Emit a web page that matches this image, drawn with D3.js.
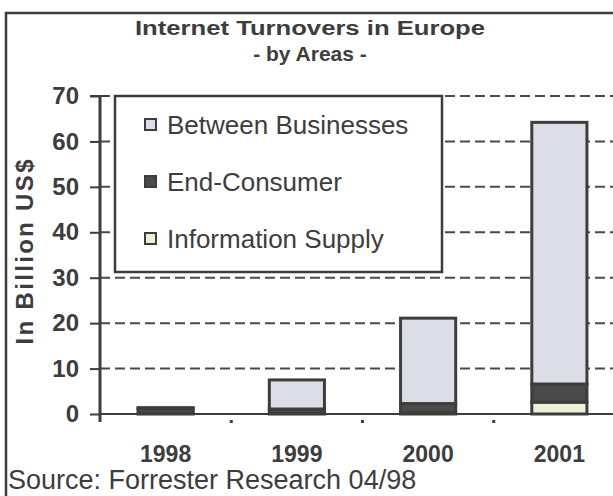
<!DOCTYPE html>
<html>
<head>
<meta charset="utf-8">
<script src="https://cdn.jsdelivr.net/npm/d3@7"></script>
<style>
  body { margin: 0; background: #fff; }
  svg { display: block; }
</style>
</head>
<body>
<div id="chart"></div>
<script>
// values (billion US$)
const years = ["1998", "1999", "2000", "2001"];
const infoSupply = [0.1, 0.1, 0.3, 2.6];
const endConsumer = [1.1, 1.0, 2.0, 4.0];
const betweenBusinesses = [0.2, 6.4, 18.8, 57.6];
const seriesNames = ["Between Businesses", "End-Consumer", "Information Supply"];
const yTicks = [0, 10, 20, 30, 40, 50, 60, 70];

const width = 613, height = 496;
const ink = "#3d3d3d";
const colors = {
  "Information Supply": "#eef0d8",
  "End-Consumer": "#4a4a4a",
  "Between Businesses": "#dcdde6"
};

let svg = d3.select("#chart").append("svg")
    .attr("width", width)
    .attr("height", height);

svg.append("rect")
    .attr("x", 0).attr("y", 0)
    .attr("width", width).attr("height", height)
    .style("fill", "#fff");

// outer chart frame (right/bottom edges are cut off in the scan)
svg.append("path")
    .attr("d", "M6," + height + "V13H" + width)
    .style("fill", "none")
    .style("stroke", ink)
    .style("stroke-width", 2.5);

let x = d3.scaleBand()
    .domain(years)
    .range([100, 625])
    .paddingInner(0.58)
    .paddingOuter(0.29);

let y = d3.scaleLinear()
    .domain([0, 70])
    .range([414, 96]);

// dashed gridlines
svg.append("g")
    .selectAll("line")
    .data(yTicks.slice(1))
  .enter().append("line")
    .attr("x1", 100).attr("x2", width)
    .attr("y1", d => y(d)).attr("y2", d => y(d))
    .style("stroke", "#4a4a4a")
    .style("stroke-width", 2)
    .style("stroke-dasharray", "10,5");

// stacked bars
let table = years.map((yr, i) => ({
  year: yr,
  "Information Supply": infoSupply[i],
  "End-Consumer": endConsumer[i],
  "Between Businesses": betweenBusinesses[i]
}));
let stack = d3.stack().keys(["Information Supply", "End-Consumer", "Between Businesses"]);
let layers = stack(table);

svg.append("g")
    .selectAll("g")
    .data(layers)
  .enter().append("g")
    .style("fill", d => colors[d.key])
    .selectAll("rect")
    .data(d => d)
  .enter().append("rect")
    .attr("x", d => x(d.data.year))
    .attr("width", x.bandwidth())
    .attr("y", d => y(d[1]))
    .attr("height", d => y(d[0]) - y(d[1]))
    .style("stroke", ink)
    .style("stroke-width", 3);

// x axis baseline and small ticks between categories
svg.append("line")
    .attr("x1", 100).attr("x2", width)
    .attr("y1", y(0)).attr("y2", y(0))
    .style("stroke", ink)
    .style("stroke-width", 2);

let step = x.step();
svg.append("g")
    .selectAll("rect")
    .data(years.slice(1))
  .enter().append("rect")
    .attr("x", d => x(d) - step * x.paddingInner() / 2 - 1.5)
    .attr("y", y(0) + 6)
    .attr("width", 3).attr("height", 3)
    .style("fill", ink);

svg.append("g")
    .selectAll("text")
    .data(years)
  .enter().append("text")
    .attr("x", d => x(d) + x.bandwidth() / 2)
    .attr("y", 462)
    .attr("text-anchor", "middle")
    .style("font", "bold 23px 'Liberation Sans', Arial, sans-serif")
    .style("fill", ink)
    .text(d => d);

// y axis
let yAxis = d3.axisLeft(y)
    .tickValues(yTicks)
    .tickSize(10)
    .tickPadding(11);

let gy = svg.append("g")
    .attr("transform", "translate(100,0)")
    .call(yAxis);
gy.select(".domain").remove();
gy.selectAll(".tick line")
    .style("stroke", ink)
    .style("stroke-width", 2);
gy.selectAll(".tick text")
    .style("font", "bold 24px 'Liberation Sans', Arial, sans-serif")
    .style("fill", ink);

svg.append("line")
    .attr("x1", 100).attr("x2", 100)
    .attr("y1", y(70)).attr("y2", y(0) + 8)
    .style("stroke", ink)
    .style("stroke-width", 3);
svg.append("line")
    .attr("x1", 90).attr("x2", 109)
    .attr("y1", y(70)).attr("y2", y(70))
    .style("stroke", ink)
    .style("stroke-width", 2);

svg.append("text")
    .attr("transform", "translate(33,252) rotate(-90)")
    .attr("text-anchor", "middle")
    .attr("textLength", 185)
    .attr("lengthAdjust", "spacing")
    .style("font", "bold 24px 'Liberation Sans', Arial, sans-serif")
    .style("fill", ink)
    .text("In Billion US$");

// legend
let legend = svg.append("g");
legend.append("rect")
    .attr("x", 115).attr("y", 96)
    .attr("width", 327).attr("height", 176)
    .style("fill", "#fff")
    .style("stroke", ink)
    .style("stroke-width", 2.5);

let legendY = d3.scalePoint()
    .domain(seriesNames)
    .range([125, 239]);

let item = legend.selectAll(".item")
    .data(seriesNames)
  .enter().append("g")
    .attr("class", "item")
    .attr("transform", d => "translate(145," + legendY(d) + ")");

item.append("rect")
    .attr("x", 0).attr("y", -6)
    .attr("width", 11).attr("height", 11)
    .style("fill", d => colors[d])
    .style("stroke", ink)
    .style("stroke-width", 2);

item.append("text")
    .attr("x", 22)
    .attr("dy", "0.36em")
    .style("font", "26px 'Liberation Sans', Arial, sans-serif")
    .style("fill", ink)
    .text(d => d);

// titles
svg.append("text")
    .attr("x", 310).attr("y", 35)
    .attr("text-anchor", "middle")
    .attr("textLength", 350)
    .attr("lengthAdjust", "spacingAndGlyphs")
    .style("font", "bold 21px 'Liberation Sans', Arial, sans-serif")
    .style("fill", ink)
    .text("Internet Turnovers in Europe");

svg.append("text")
    .attr("x", 310).attr("y", 61)
    .attr("text-anchor", "middle")
    .style("font", "bold 21px 'Liberation Sans', Arial, sans-serif")
    .style("fill", ink)
    .text("- by Areas -");

svg.append("text")
    .attr("x", 8).attr("y", 489)
    .style("font", "27px 'Liberation Sans', Arial, sans-serif")
    .style("fill", ink)
    .text("Source: Forrester Research 04/98");
</script>
</body>
</html>
